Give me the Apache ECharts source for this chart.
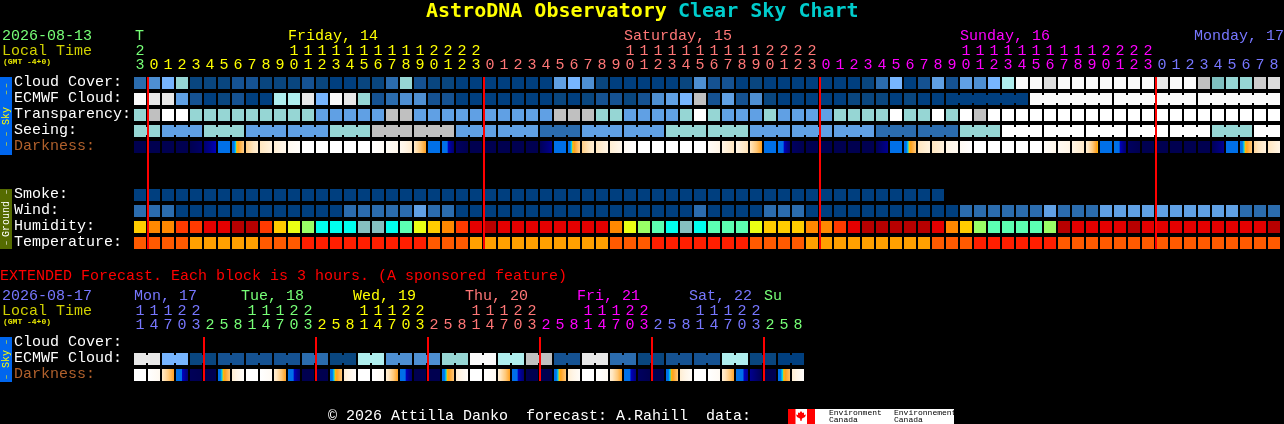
<!DOCTYPE html>
<html><head><meta charset="utf-8">
<style>html,body{margin:0;padding:0;background:#000;overflow:hidden}#c{width:1284px;height:424px}</style>
<script src="https://cdn.jsdelivr.net/npm/echarts@6/dist/echarts.min.js"></script>
</head><body><div id="c"></div>
<script>
// ---------- data (levels) ----------
const hours = [23,0,1,2,3,4,5,6,7,8,9,10,11,12,13,14,15,16,17,18,19,20,21,22,23,0,1,2,3,4,5,6,7,8,9,10,11,12,13,14,15,16,17,18,19,20,21,22,23,0,1,2,3,4,5,6,7,8,9,10,11,12,13,14,15,16,17,18,19,20,21,22,23,0,1,2,3,4,5,6,7,8];
const extHours = [11,14,17,20,23,2,5,8,11,14,17,20,23,2,5,8,11,14,17,20,23,2,5,8,11,14,17,20,23,2,5,8,11,14,17,20,23,2,5,8,11,14,17,20,23,2,5,8];
const rowNames = ['Cloud Cover:','ECMWF Cloud:','Transparency:','Seeing:','Darkness:',' ','  ','Smoke:','Wind:','Humidity:','Temperature:'];
const extRowNames = ['Cloud Cover:','ECMWF Cloud:','Darkness:'];
const midnights = [1,25,49,73];
const extMidnights = [5,13,21,29,37,45];
// sky scale levels: 0 darkest blue ... 10 white, 11+ greys
const cloudCover = [3,4,6,7,1,1,1,2,2,1,1,1,2,1,0,0,1,1,3,7,2,1,1,0,0,0,0,0,0,0,5,6,4,1,0,0,0,0,0,1,4,2,2,0,1,0,0,0,0,0,0,0,1,3,6,0,2,5,2,5,4,6,8,10,10,14,10,10,10,10,10,10,10,9,10,10,11,12,7,7,13,14];
const ecmwfCloud = [10,9,9,5,2,0,1,2,0,0,8,8,9,6,10,9,7,2,3,4,4,2,2,0,0,0,0,0,0,0,1,0,1,2,2,1,2,4,5,6,11,2,5,2,4,1,0,0,0,0,0,1,1,1,0,1,0,0,0,0,0,0,0,0,10,10,10,10,10,10,10,10,10,10,10,10,10,10,10,10,10,10];
const ecmwfSpans = [1,1,1,1,1,1,1,1,1,1,1,1,1,1,1,1,1,1,1,1,1,1,1,1,1,1,1,1,1,1,1,1,1,1,1,1,1,1,1,1,1,1,1,1,1,1,1,1,1,1,1,1,1,1,1,1,1,1,6,6,6,6];
const transparency = [7,11,15,15,7,7,7,7,7,7,7,7,7,5,5,5,5,5,11,11,5,5,5,5,5,5,5,5,5,5,11,11,11,7,7,5,5,5,5,7,15,7,5,5,5,7,5,5,5,5,7,7,7,7,15,7,7,15,7,15,11,15,15,15,15,15,15,15,15,15,15,15,15,15,15,15,15,15,15,15,15,15];
const seeing = [7,7,5,5,5,7,7,7,5,5,5,5,5,5,7,7,7,11,11,11,11,11,11,5,5,5,5,5,5,3,3,3,5,5,5,5,5,5,7,7,7,7,7,7,5,5,5,5,5,5,5,5,5,3,3,3,3,3,3,7,7,7,15,15,15,15,15,15,15,15,15,15,15,15,15,15,15,7,7,7,15,15];
const seeingSpans = [2,3,3,3,3,3,3,3,3,3,3,3,3,3,3,3,3,3,3,3,3,3,3,3,3,3,3,2];
const darknessFrom = [7,7,7,7,7,6.6,5,5.1,2.8,2,1.5,.6,0,0,0,0,0,.1,.4,.6,1.8,5,5,6.8,7,7,7,7,7,6.9,5,5.1,2.8,2,1.5,.5,0,0,0,0,0,.3,1,1,2,5,5,6.8,7,7,7,7,7,6.9,5,5.1,2,2,1,.5,0,0,0,0,0,.2,.5,1,1.5,5,5,6.8,7,7,7,7,7,6.9,5,5.1,2.5,2];
const darknessTo = [7,7,7,7,6.7,5.85,5,2.8,1.5,1.2,.8,.2,0,0,0,0,0,.4,.8,1.6,3.9,5,6.6,7,7,7,7,7,7,6.2,5,2.8,1.5,1,.8,.1,0,0,0,0,0,1,2,2.2,3.9,5,6.6,7,7,7,7,7,7,6.2,5,3,1.2,1.2,.6,0,0,0,0,0,0,.8,1,1.8,4.2,5,6.6,7,7,7,7,7,7,6.2,5,3,1.2,1];
const smoke = [0,0,0,0,0,0,0,0,0,0,0,0,0,0,0,0,0,0,0,0,0,0,0,0,0,0,0,0,0,0,0,0,0,0,0,0,0,0,0,0,0,0,0,0,0,0,0,0,0,0,0,0,0,0,0,0,0,0];
const wind = [3,3,3,0,0,0,0,0,0,0,0,0,0,0,0,3,3,3,3,3,5,3,3,0,0,0,0,0,0,0,0,0,0,0,0,0,0,0,0,0,3,0,0,0,0,3,3,3,0,0,0,0,0,0,0,0,0,0,0,3,3,3,3,3,3,5,3,3,3,5,5,5,5,5,5,5,5,5,5,3,3,3];
// humidity levels: 0 dark red ... 9 grey teal
const humidity = [4,3,3,2,2,1,1,0,0,2,4,5,6,8,8,8,9,9,8,7,5,4,3,2,1,0,1,1,1,1,1,1,1,1,3,5,6,7,8,9,8,7,7,7,5,4,4,4,3,3,2,1,0,0,0,0,0,1,3,4,6,7,7,7,7,6,0,1,1,1,1,0,1,1,1,1,1,1,1,1,1,0];
// temperature levels: 0 red, 1 orange-red, 2 amber
const temperature = [1,1,1,1,2,2,2,2,2,1,1,1,0,0,0,0,0,0,0,0,0,1,1,1,2,2,2,2,2,2,2,2,2,2,1,1,1,0,0,0,0,0,0,0,1,1,1,1,2,2,2,2,2,2,2,2,2,1,1,1,0,0,0,0,0,0,1,1,1,1,1,1,1,1,1,1,1,1,1,1,1,1];
const extCloud = [9,9,6,6,1,1,2,2,2,2,2,2,3,3,1,1,8,8,4,4,4,4,7,7,10,10,8,8,11,11,2,2,9,9,3,3,1,1,2,2,2,2,8,8,1,1,0,0];
const extSpans = [2,2,2,2,2,2,2,2,2,2,2,2,2,2,2,2,2,2,2,2,2,2,2,2];
const extDarkFrom = [0,0,1.8,5,6.9,7,5.1,1.5,0,0,1.5,5,7,7,5.1,1.5,0,0,1.5,5,7,7,5.1,1.5,0,0,1.5,5,7,7,5.1,1.5,0,0,1.5,5,6.8,7,5.1,1.5,0,0,1.5,5,6.2,7,5.1,1.5];
const extDarkTo = [0,.6,3.9,6.5,7,7,3,.2,0,.5,3.9,6.6,7,7,3,.2,0,.5,3.9,6.6,7,7,3,.2,0,.5,3.9,6.6,7,7,3,.3,0,.5,3.9,6.4,7,7,3,.3,0,.5,3.8,6.2,7,7,3.2,.2];
const dayNames = ['Friday, 14','Saturday, 15','Sunday, 16','Monday, 17'];
const dayLeft = [288,624,960,1194];
const extDayNames = ['Mon, 17','Tue, 18','Wed, 19','Thu, 20','Fri, 21','Sat, 22','Su'];
const extDayLeft = [134,241,353,465,577,689,764];

// ---------- styles ----------
const MONO = '"Liberation Mono"';
const BOLD = '"DejaVu Sans Mono"';
const C = {green:'#77FF77',yellow:'#FFFF00',salmon:'#FF7777',magenta:'#FF00FF',blue:'#7777FF',olive:'#D0D000',brown:'#B0602C'};
const skyColors = ['#003F7F','#09467F','#155292','#2B6CAE','#4E8FD2','#60A0E4','#77B5FE','#96D6D4','#AFEEEE','#E8E8E8','#FAFAFA','#C0C0C0','#7FBFBF','#CCCCCC','#DDDDDD','#FFFFFF'];
const humColors = ['#B80000','#E40000','#FF3A00','#FF8800','#FFCC00','#EAFF14','#99FF66','#5CFFB2','#00FFEE','#85BFBF'];
const tempColors = ['#FF1E00','#FF5A00','#FFA000'];
const darkKnots = [[0,'#FFFFFF'],[1,'#FFF5E6'],[2,'#FFE6C0'],[3,'#FFC878'],[3.9,'#FFA020'],[4.2,'#FFC000'],[4.4,'#00D8F0'],[4.7,'#0070E8'],[5.7,'#0070E8'],[5.8,'#0000C0'],[6.2,'#000090'],[6.6,'#000070'],[7,'#000050']];

function lerpColor(a,b,t){const p=s=>[1,3,5].map(k=>parseInt(s.substr(k,2),16));const A=p(a),B=p(b);
  return 'rgb('+A.map((v,k)=>Math.round(v+(B[k]-v)*t)).join(',')+')';}
function darkAt(v){for(let k=1;k<darkKnots.length;k++){if(v<=darkKnots[k][0]){const a=darkKnots[k-1],b=darkKnots[k];
  return lerpColor(a[1],b[1],(v-a[0])/(b[0]-a[0]));}}return darkKnots[darkKnots.length-1][1];}
function darkFill(f,t){
  if(f===t) return darkAt(f);
  const stops=[{offset:0,color:darkAt(f)}];
  const ks=darkKnots.map(k=>k[0]).filter(k=>k>Math.min(f,t)&&k<Math.max(f,t));
  if(f>t) ks.reverse();
  ks.forEach(k=>stops.push({offset:(k-f)/(t-f),color:darkAt(k)}));
  stops.push({offset:1,color:darkAt(t)});
  return new echarts.graphic.LinearGradient(0,0,1,0,stops);
}
function bridgesFrom(spans,n){const b=new Array(n).fill(0);let p=0;spans.forEach(s=>{for(let k=0;k<s-1;k++)b[p+k]=1;p+=s;});return b;}

function cellSeries(name,xi,values,row,fill,bridges){
  return {name,type:'custom',xAxisIndex:xi,yAxisIndex:xi?1:0,silent:true,clip:false,z:2,
    data:values.map((v,i)=>[i,row,bridges?bridges[i]:0,i]),
    renderItem(p,api){
      const c=api.coord([api.value(0),api.value(1)]);
      const f=fill(api.value(3));
      const kids=[{type:'rect',shape:{x:c[0]-6,y:c[1]-6,width:12,height:12},style:{fill:f}}];
      if(api.value(2)) kids.push({type:'rect',shape:{x:c[0]+6,y:c[1]-4,width:2,height:8},style:{fill:f}});
      return {type:'group',children:kids};
    }};
}
function redLines(name,xi,idx,lastRow){
  return {name,type:'custom',xAxisIndex:xi,yAxisIndex:xi?1:0,silent:true,clip:false,z:5,
    data:idx.map(i=>[i,0]),
    renderItem(p,api){
      const a=api.coord([api.value(0),0]),b=api.coord([api.value(0),lastRow]);
      return {type:'rect',shape:{x:a[0]-7,y:a[1]-6,width:2,height:b[1]-a[1]+12},style:{fill:'#FF0000'}};
    }};
}
function hourColor(i){return i<1?C.green:i<25?C.yellow:i<49?C.salmon:i<73?C.magenta:C.blue;}
function extColor(i){return i<5?C.blue:i<13?C.green:i<21?C.yellow:i<29?C.salmon:i<37?C.magenta:i<45?C.blue:C.green;}
function hourAxis(gi,data,offset,fmt,color){
  return {type:'category',gridIndex:gi,position:'top',offset,data:data.map((v,i)=>i+''),boundaryGap:true,
    axisLine:{show:false},axisTick:{show:false},splitLine:{show:false},
    axisLabel:{show:true,interval:0,hideOverlap:false,margin:1,fontFamily:MONO,fontSize:15,
      formatter:(v)=>fmt(data[+v],+v),color:(v)=>color(+v)}};
}
function rowAxis(gi,names){
  return {type:'category',gridIndex:gi,inverse:true,data:names,boundaryGap:true,
    axisLine:{show:false},axisTick:{show:false},splitLine:{show:false},
    axisLabel:{show:true,interval:0,align:'left',verticalAlign:'bottom',lineHeight:2,margin:119,fontFamily:MONO,fontSize:15,
      color:(v)=>v==='Darkness:'?C.brown:'#FFFFFF'}};
}
function txt(text,x,y,fill,size,extra){
  const bold=extra&&extra.bold;
  return Object.assign({type:'text',x,y,silent:true,z:20,style:{text,fill,font:(bold?'bold ':'')+size+'px '+(extra&&extra.face||MONO),textAlign:(extra&&extra.align)||'left',textVerticalAlign:'middle'}},
    extra&&extra.rotation?{rotation:extra.rotation}:{});
}
function rect(x,y,w,h,fill){return {type:'rect',silent:true,z:10,shape:{x,y,width:w,height:h},style:{fill}};}
const UP={align:'center',rotation:Math.PI/2};
function sideBar(top,height,color,textColor,label,labelY,dashYs){
  const out=[rect(0,top,12,height,color),txt(label,6,labelY,textColor,10,UP)];
  dashYs.forEach(y=>out.push(txt('\u2013',6,y,textColor,8,UP)));
  return out;
}

const graphics=[
  txt('AstroDNA Observatory',426,12,'#FFFF00',20,{bold:true,face:BOLD}),
  txt('Clear Sky Chart',678,12,'#00CCCC',20,{bold:true,face:BOLD}),
  txt('2026-08-13',2,36,C.green,15),
  txt('Local Time',2,51,C.olive,15),
  txt('(GMT -4+0)',3,62,'#E8E800',8,{bold:true}),
  txt('T',135,36,C.green,15),
  ...sideBar(77,78,'#0066EE','#FFFF00','Sky',116,[85.5,92.5,134,144]),
  ...sideBar(189,60,'#556B00','#FFFFFF','Ground',219,[192,243]),
  txt('EXTENDED Forecast. Each block is 3 hours. (A sponsored feature)',0,276,'#FF0000',15),
  txt('2026-08-17',2,296,C.blue,15),
  txt('Local Time',2,311,C.olive,15),
  txt('(GMT -4+0)',3,322,'#E8E800',8,{bold:true}),
  ...sideBar(337,45,'#0066EE','#FFFF00','Sky',359,[342,377]),
  txt('\u00A9 2026 Attilla Danko  forecast: A.Rahill  data:',328,416,'#FFFFFF',15),
  rect(788,409,166,15,'#FFFFFF'),
  rect(788,409,7.5,15,'#FF0000'),
  rect(807,409,8,15,'#FF0000'),
  {type:'polygon',silent:true,z:11,shape:{points:[[801,411],[802.5,413],[804,412.5],[804,415],[806,414.5],[805,417],[802,418.5],[801.5,421],[800.5,421],[800,418.5],[797,417],[796,414.5],[798,415],[798,412.5],[799.5,413]]},style:{fill:'#FF0000'}},
  txt('Environment',829,413,'#000000',8),
  txt('Canada',829,420,'#000000',8),
  txt('Environnement',894,413,'#000000',8),
  txt('Canada',894,420,'#000000',8)
];
dayNames.forEach((d,i)=>graphics.push(txt(d,dayLeft[i],36,[C.yellow,C.salmon,C.magenta,C.blue][i],15)));
extDayNames.forEach((d,i)=>graphics.push(txt(d,extDayLeft[i],296,[C.blue,C.green,C.yellow,C.salmon,C.magenta,C.blue,C.green][i],15)));

const skyFill=a=>i=>skyColors[a[i]];
const series=[
  cellSeries('Cloud Cover',0,cloudCover,0,skyFill(cloudCover)),
  cellSeries('ECMWF Cloud',0,ecmwfCloud,1,skyFill(ecmwfCloud),bridgesFrom(ecmwfSpans,82)),
  cellSeries('Transparency',0,transparency,2,skyFill(transparency)),
  cellSeries('Seeing',0,seeing,3,skyFill(seeing),bridgesFrom(seeingSpans,82)),
  cellSeries('Darkness',0,darknessFrom,4,i=>darkFill(darknessFrom[i],darknessTo[i])),
  cellSeries('Smoke',0,smoke,7,skyFill(smoke)),
  cellSeries('Wind',0,wind,8,skyFill(wind)),
  cellSeries('Humidity',0,humidity,9,i=>humColors[humidity[i]]),
  cellSeries('Temperature',0,temperature,10,i=>tempColors[temperature[i]]),
  redLines('Midnight',0,midnights,10),
  cellSeries('Ext ECMWF',2,extCloud,1,skyFill(extCloud),bridgesFrom(extSpans,48)),
  cellSeries('Ext Darkness',2,extDarkFrom,2,i=>darkFill(extDarkFrom[i],extDarkTo[i])),
  redLines('Ext Midnight',2,extMidnights,2)
];

const chart=echarts.init(document.getElementById('c'),null,{renderer:'canvas',width:1284,height:424});
chart.setOption({
  animation:false,backgroundColor:'#000000',
  grid:[{left:133,top:75,width:14*82,height:176,containLabel:false},{left:133,top:335,width:14*48,height:48,containLabel:false}],
  xAxis:[
    hourAxis(0,hours,1,h=>String(h%10),hourColor),
    hourAxis(0,hours,15,h=>h>=10?String(Math.floor(h/10)):'',hourColor),
    hourAxis(1,extHours,1,h=>String(h%10),extColor),
    hourAxis(1,extHours,15,h=>h>=10?String(Math.floor(h/10)):'',extColor)
  ],
  yAxis:[rowAxis(0,rowNames),rowAxis(1,extRowNames)],
  series,graphic:graphics
});
</script></body></html>
